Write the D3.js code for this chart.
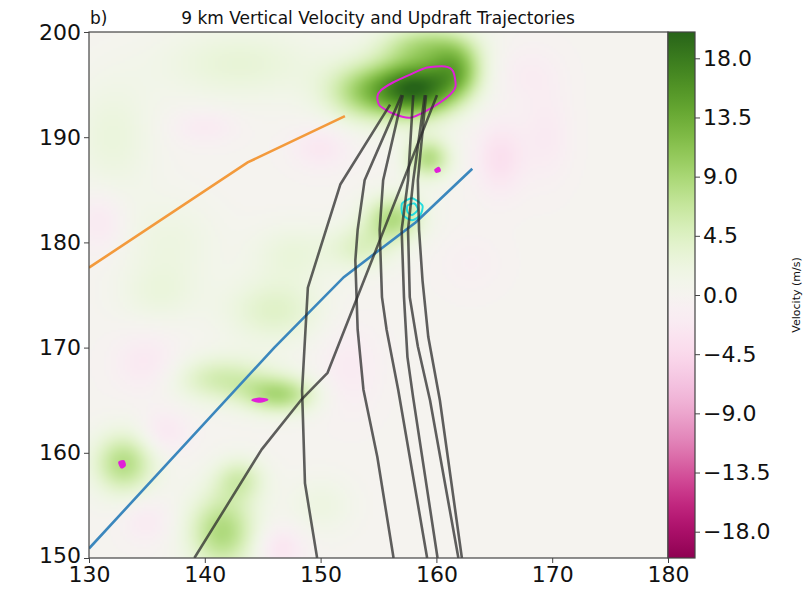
<!DOCTYPE html>
<html>
<head>
<meta charset="utf-8">
<script src="https://cdn.jsdelivr.net/npm/d3@7"></script>
<style>
  html, body { margin: 0; padding: 0; background: #fff; }
  svg text { font-family: "DejaVu Sans", sans-serif; fill: #111; }
</style>
</head>
<body>
<div id="chart"></div>
<script>
// ---- data ----
const xTicks = [130, 140, 150, 160, 170, 180];
const yTicks = [150, 160, 170, 180, 190, 200];
const cbTicks = [-18, -13.5, -9, -4.5, 0, 4.5, 9, 13.5, 18];

// vertical velocity field, described as smooth cells: centre x, centre y, spread x, spread y, peak (m/s)
const cellX   = [158.3, 161.8, 153.8, 159.0, 159.3, 156.3, 153.5, 143, 132, 146.5, 141.5, 146, 133, 141.5, 143, 150, 137, 147.5, 136,
                 165.5, 150, 135, 136.5, 146.5, 131, 140, 152.5, 168, 169.5, 135, 163];
const cellY   = [194.6, 196.5, 194.3, 198.8, 188.0, 182.3, 179.5, 197, 190, 165.5, 167.0, 173.5, 159, 152.5, 157.5, 155, 180, 179, 175,
                 188, 189, 168.5, 162, 151, 182, 191, 168, 196, 190, 153.5, 178];
const cellSX  = [2.5, 1.6, 2.5, 2.8, 1.4, 1.8, 2, 5, 2.5, 2.2, 3.0, 3, 1.9, 2.1, 1.6, 2, 3, 2.5, 2.5,
                 1.5, 1.8, 2, 1.5, 1.5, 1.5, 2, 1.8, 2, 1.5, 1.5, 2];
const cellSY  = [1.9, 1.8, 2.0, 1.4, 1.4, 1.6, 1.6, 2.5, 4, 1.3, 1.6, 2.2, 2.1, 2.6, 1.5, 2, 3, 2, 2,
                 2.5, 1.5, 2, 1.5, 1.5, 2, 1.2, 3, 2, 3, 1.5, 2];
const cellAmp = [18, 9, 8, 7, 8, 8, 4, 3, 2.5, 8, 5.5, 4, 8, 8.5, 5, 2, 2, 2.5, 2,
                 -3.5, -2.5, -2.5, -2.5, -3, -2.5, -2, -2, -1.5, -2, -2, -1];

// trajectories (x, y)
const trajA = [[139.1, 150], [144.9, 160.3], [148.3, 165.0], [150.6, 167.6], [160.05, 194.0]];
const trajB = [[149.7, 150], [148.65, 157.1], [148.4, 165.9], [148.9, 175.7], [151.7, 185.5], [156.0, 193.1]];
const trajC = [[156.3, 150], [154.9, 159.6], [153.7, 166.0], [153.2, 171.7], [153.0, 178.3], [153.2, 181.2], [153.8, 185.9], [157.0, 194.0]];
const trajD = [[159.2, 150], [156.7, 166.0], [155.7, 171.7], [155.3, 174.8], [155.1, 181.2], [155.4, 185.9], [157.1, 194.0]];
const trajE = [[160.1, 150], [158.0, 165.2], [157.5, 169.1], [157.2, 174.8], [157.0, 181.2], [157.55, 185.9], [158.0, 194.0]];
const trajF = [[161.9, 150], [159.45, 165.0], [158.4, 170.1], [157.7, 174.8], [157.55, 181.2], [158.0, 185.9], [159.0, 194.0]];
const trajG = [[162.2, 150], [160.3, 165.0], [159.3, 171.0], [158.8, 176.4], [158.5, 181.2], [158.4, 185.9], [159.1, 194.0]];
const trajectories = [trajA, trajB, trajC, trajD, trajE, trajF, trajG];

const orangeLine = [[130, 177.6], [143.7, 187.6], [152.1, 192.0]];
const blueLine = [[130, 150.9], [146.0, 170.0], [152.0, 176.7], [158.2, 181.9], [163.1, 187.0]];

// updraft contours (magenta) and downdraft contour (cyan)
const magentaMain = [[154.9, 193.85], [155.1, 193.0], [156.25, 192.25], [157.72, 191.85], [159.19, 192.55], [160.92, 193.8],
                     [161.65, 194.8], [161.45, 196.25], [160.74, 196.72], [159.19, 196.62], [157.72, 195.95], [156.25, 195.2], [155.25, 194.5]];
const magentaSmall1 = [[159.9, 186.9], [160.2, 187.1], [160.3, 186.8], [160.0, 186.7]];
const magentaSmall2 = [[144.1, 165.0], [144.7, 165.15], [145.4, 165.05], [144.8, 164.85]];
const magentaSmall3 = [[132.6, 159.1], [133.0, 159.2], [133.1, 158.8], [132.8, 158.6]];
const cyanOuter = [[157.03, 183.7], [157.9, 184.2], [158.8, 183.5], [158.6, 182.6], [157.9, 182.1], [157.1, 182.6]];
const cyanInner = [[157.5, 183.5], [158.1, 183.7], [158.4, 183.1], [157.9, 182.6], [157.5, 182.9]];

// ---- layout ----
const W = 811, H = 593;
const plot = { left: 89, right: 668, top: 32, bottom: 558 };
const cb = { left: 668, right: 695 };

const x = d3.scaleLinear().domain([130, 180]).range([plot.left, plot.right]);
const y = d3.scaleLinear().domain([150, 200]).range([plot.bottom, plot.top]);
const vScale = d3.scaleLinear().domain([-20, 20]).range([plot.bottom, plot.top]);
const colour = v => d3.interpolatePiYG((Math.max(-20, Math.min(20, v)) + 20) / 40);

const svg = d3.select('#chart').append('svg')
  .attr('width', W).attr('height', H)
  .attr('viewBox', `0 0 ${W} ${H}`);

svg.append('clipPath').attr('id', 'plotclip')
  .append('rect')
  .attr('x', plot.left).attr('y', plot.top)
  .attr('width', plot.right - plot.left).attr('height', plot.bottom - plot.top);

// Velocity field as an image
const nx = 250, ny = 250;
const cvs = document.createElement('canvas');
cvs.width = nx; cvs.height = ny;
const ctx = cvs.getContext('2d');
const img = ctx.createImageData(nx, ny);
for (let j = 0; j < ny; j++) {
  const yv = y.invert(plot.top + (j + 0.5) * (plot.bottom - plot.top) / ny);
  for (let i = 0; i < nx; i++) {
    const xv = x.invert(plot.left + (i + 0.5) * (plot.right - plot.left) / nx);
    let v = 0;
    for (let k = 0; k < cellX.length; k++) {
      const dx = (xv - cellX[k]) / cellSX[k], dy = (yv - cellY[k]) / cellSY[k];
      v += cellAmp[k] * Math.exp(-0.5 * (dx * dx + dy * dy));
    }
    const c = d3.rgb(colour(v));
    const p = (j * nx + i) * 4;
    img.data[p] = c.r; img.data[p + 1] = c.g; img.data[p + 2] = c.b; img.data[p + 3] = 255;
  }
}
ctx.putImageData(img, 0, 0);

svg.append('image')
  .attr('href', cvs.toDataURL())
  .attr('x', plot.left).attr('y', plot.top)
  .attr('width', plot.right - plot.left).attr('height', plot.bottom - plot.top)
  .attr('preserveAspectRatio', 'none');

const g = svg.append('g').attr('clip-path', 'url(#plotclip)');
const line = d3.line().x(d => x(d[0])).y(d => y(d[1]));
const closed = d3.line().x(d => x(d[0])).y(d => y(d[1])).curve(d3.curveCardinalClosed.tension(0.3));

// Contours
[magentaMain, magentaSmall1, magentaSmall2, magentaSmall3].forEach(c => {
  g.append('path').attr('d', closed(c))
    .attr('fill', c === magentaMain ? 'none' : '#e020d8')
    .attr('stroke', '#e020d8').attr('stroke-width', 2);
});
[cyanOuter, cyanInner].forEach(c => {
  g.append('path').attr('d', closed(c))
    .attr('fill', 'none').attr('stroke', '#22dde0').attr('stroke-width', 2);
});

// Reference lines
g.append('path').attr('d', line(orangeLine))
  .attr('fill', 'none').attr('stroke', '#f39a3c').attr('stroke-width', 2.6);
g.append('path').attr('d', line(blueLine))
  .attr('fill', 'none').attr('stroke', '#3b87bd').attr('stroke-width', 2.6);

// Trajectories
g.selectAll('path.traj')
  .data(trajectories)
  .join('path')
  .attr('class', 'traj')
  .attr('d', line)
  .attr('fill', 'none')
  .attr('stroke', '#2b2b2b')
  .attr('stroke-opacity', 0.75)
  .attr('stroke-width', 2.6)
  .attr('stroke-linejoin', 'round');

// Frame
svg.append('rect')
  .attr('x', plot.left).attr('y', plot.top)
  .attr('width', plot.right - plot.left).attr('height', plot.bottom - plot.top)
  .attr('fill', 'none').attr('stroke', '#444').attr('stroke-width', 1.2);

// Axes
const xAxis = svg.append('g')
  .attr('transform', `translate(0,${plot.bottom})`)
  .call(d3.axisBottom(x).tickValues(xTicks).tickSize(5).tickPadding(3).tickFormat(d3.format('d')));
const yAxis = svg.append('g')
  .attr('transform', `translate(${plot.left},0)`)
  .call(d3.axisLeft(y).tickValues(yTicks).tickSize(5).tickPadding(3).tickFormat(d3.format('d')));
[xAxis, yAxis].forEach(a => {
  a.select('.domain').remove();
  a.selectAll('.tick line').attr('stroke', '#444');
  a.selectAll('.tick text').attr('font-size', 22).attr('font-family', '"DejaVu Sans", sans-serif').attr('fill', '#111');
});
// keep the lowest y label just clear of the first x label
yAxis.selectAll('.tick text').filter(d => d === 150).attr('dy', '0.2em');

// Colorbar
const grad = svg.append('defs').append('linearGradient')
  .attr('id', 'cbgrad').attr('x1', 0).attr('y1', 1).attr('x2', 0).attr('y2', 0);
d3.range(0, 41).forEach(i => {
  grad.append('stop').attr('offset', i / 40).attr('stop-color', d3.interpolatePiYG(i / 40));
});
svg.append('rect')
  .attr('x', cb.left).attr('y', plot.top)
  .attr('width', cb.right - cb.left).attr('height', plot.bottom - plot.top)
  .attr('fill', 'url(#cbgrad)').attr('stroke', '#444').attr('stroke-width', 1.2);

const fmt = v => (v < 0 ? '\u2212' : '') + Math.abs(v).toFixed(1);
const cbAxis = svg.append('g')
  .attr('transform', `translate(${cb.right},0)`)
  .call(d3.axisRight(vScale).tickValues(cbTicks).tickSize(5).tickPadding(3).tickFormat(fmt));
cbAxis.select('.domain').remove();
cbAxis.selectAll('.tick line').attr('stroke', '#444');
cbAxis.selectAll('.tick text').attr('font-size', 22).attr('font-family', '"DejaVu Sans", sans-serif').attr('fill', '#111');

svg.append('text')
  .attr('transform', `translate(800,${(plot.top + plot.bottom) / 2}) rotate(-90)`)
  .attr('text-anchor', 'middle')
  .attr('font-size', 11)
  .text('Velocity (m/s)');

// Titles
svg.append('text')
  .attr('x', 90).attr('y', 24)
  .attr('font-size', 17)
  .text('b)');
svg.append('text')
  .attr('x', 378).attr('y', 24)
  .attr('text-anchor', 'middle')
  .attr('font-size', 17)
  .text('9 km Vertical Velocity and Updraft Trajectories');
</script>
</body>
</html>
